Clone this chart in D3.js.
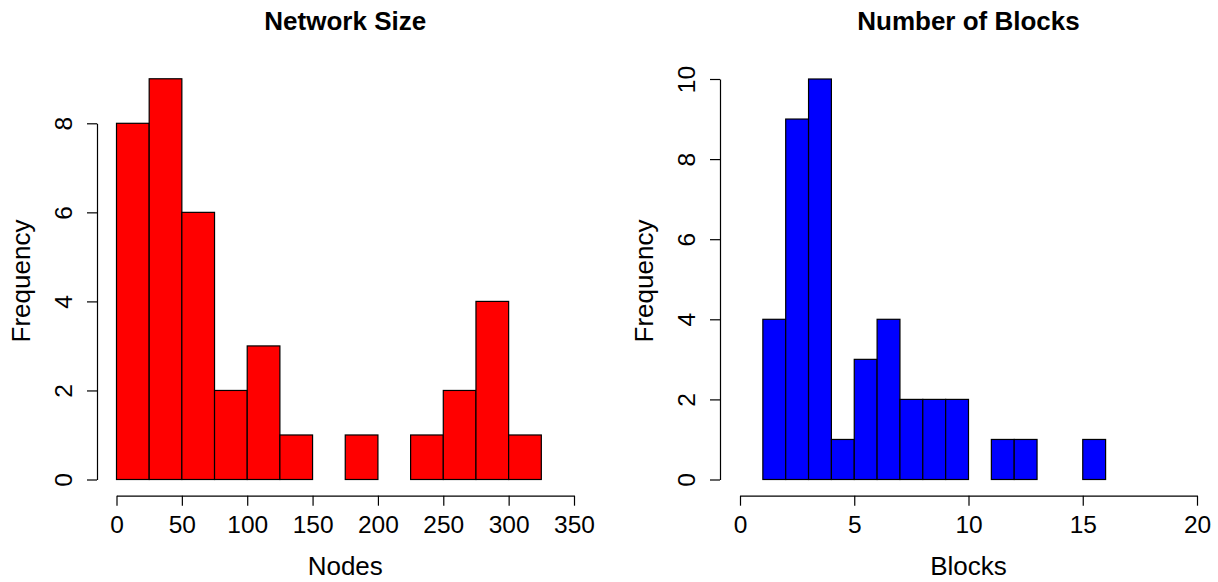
<!DOCTYPE html>
<html>
<head>
<meta charset="utf-8">
<script src="https://cdn.jsdelivr.net/npm/d3@7"></script>
<style>
  body { margin: 0; background: #fff; }
  svg { display: block; }
  text { font-family: "Liberation Sans", Arial, Helvetica, sans-serif; fill: #000; }
</style>
</head>
<body>
<svg id="chart" width="1218" height="582"></svg>
<script>
// ---- Data ----
const nodesBreaks = [0, 25, 50, 75, 100, 125, 150, 175, 200, 225, 250, 275, 300, 325, 350];
const nodesCounts = [8, 9, 6, 2, 3, 1, 0, 1, 0, 1, 2, 4, 1, 0];
const nodesXTicks = [0, 50, 100, 150, 200, 250, 300, 350];
const nodesYTicks = [0, 2, 4, 6, 8];

const blocksBreaks = [0, 1, 2, 3, 4, 5, 6, 7, 8, 9, 10, 11, 12, 13, 14, 15, 16, 17, 18, 19, 20];
const blocksCounts = [0, 4, 9, 10, 1, 3, 4, 2, 2, 2, 0, 1, 1, 0, 0, 1, 0, 0, 0, 0];
const blocksXTicks = [0, 5, 10, 15, 20];
const blocksYTicks = [0, 2, 4, 6, 8, 10];

const svg = d3.select("#chart");

function drawHist(opts) {
  const { breaks, counts, xTicks, yTicks, yMax, color, title, xlab, ylab,
          x0, x1, yAxisX } = opts;
  const yBase = 479.5, yTopPx = opts.yTopPx;
  const x = d3.scaleLinear().domain([xTicks[0], xTicks[xTicks.length - 1]]).range([x0, x1]);
  const y = d3.scaleLinear().domain([0, yMax]).range([yBase, yTopPx]);

  const bins = counts.map((c, i) => ({ lo: breaks[i], hi: breaks[i + 1], c }));
  const g = svg.append("g");

  g.selectAll("rect.bar").data(bins).enter().append("rect")
    .attr("class", "bar")
    .attr("x", d => x(d.lo))
    .attr("y", d => y(d.c))
    .attr("width", d => x(d.hi) - x(d.lo))
    .attr("height", d => y(0) - y(d.c))
    .attr("fill", color)
    .attr("stroke", "#000")
    .attr("stroke-width", 1.2);

  // X axis
  const xAxisY = 495.7;
  const xa = g.append("g").attr("transform", `translate(0,${xAxisY})`)
    .call(d3.axisBottom(x).tickValues(xTicks).tickSize(10).tickSizeOuter(0).tickFormat(d3.format("d")));
  xa.select(".domain").attr("stroke", "#000").attr("stroke-width", 1.2);
  xa.selectAll(".tick line").attr("stroke", "#000").attr("stroke-width", 1.2);
  xa.selectAll(".tick text").attr("y", 37).attr("dy", 0)
    .style("font-size", "24.5px").attr("fill", "#000");

  // Y axis (domain spans tick range only)
  const yAx = d3.scaleLinear().domain([yTicks[0], yTicks[yTicks.length - 1]])
    .range([y(yTicks[0]), y(yTicks[yTicks.length - 1])]);
  const ya = g.append("g").attr("transform", `translate(${yAxisX},0)`)
    .call(d3.axisLeft(yAx).tickValues(yTicks).tickSize(10).tickSizeOuter(0).tickFormat(d3.format("d")));
  ya.select(".domain").attr("stroke", "#000").attr("stroke-width", 1.2);
  ya.selectAll(".tick line").attr("stroke", "#000").attr("stroke-width", 1.2);
  ya.selectAll(".tick text")
    .attr("x", null).attr("dy", null).attr("y", null)
    .attr("transform", "translate(-25,0) rotate(-90)")
    .attr("text-anchor", "middle")
    .style("font-size", "24.5px").attr("fill", "#000");

  // Title
  g.append("text").attr("x", (x0 + x1) / 2).attr("y", 30)
    .attr("text-anchor", "middle").style("font-size", "26px").style("font-weight", "bold")
    .text(title);
  // X label
  g.append("text").attr("x", (x0 + x1) / 2).attr("y", 575)
    .attr("text-anchor", "middle").style("font-size", "26px").text(xlab);
  // Y label
  g.append("text").attr("transform", `translate(${yAxisX - 67},281) rotate(-90)`)
    .attr("text-anchor", "middle").style("font-size", "26px").text(ylab);
}

drawHist({
  breaks: nodesBreaks, counts: nodesCounts, xTicks: nodesXTicks, yTicks: nodesYTicks,
  yMax: 8, yTopPx: 123.3, color: "#ff0000", title: "Network Size", xlab: "Nodes", ylab: "Frequency",
  x0: 116.5, x1: 574, yAxisX: 97
});
drawHist({
  breaks: blocksBreaks, counts: blocksCounts, xTicks: blocksXTicks, yTicks: blocksYTicks,
  yMax: 10, yTopPx: 79, color: "#0000ff", title: "Number of Blocks", xlab: "Blocks", ylab: "Frequency",
  x0: 740, x1: 1197, yAxisX: 720
});
</script>
</body>
</html>
